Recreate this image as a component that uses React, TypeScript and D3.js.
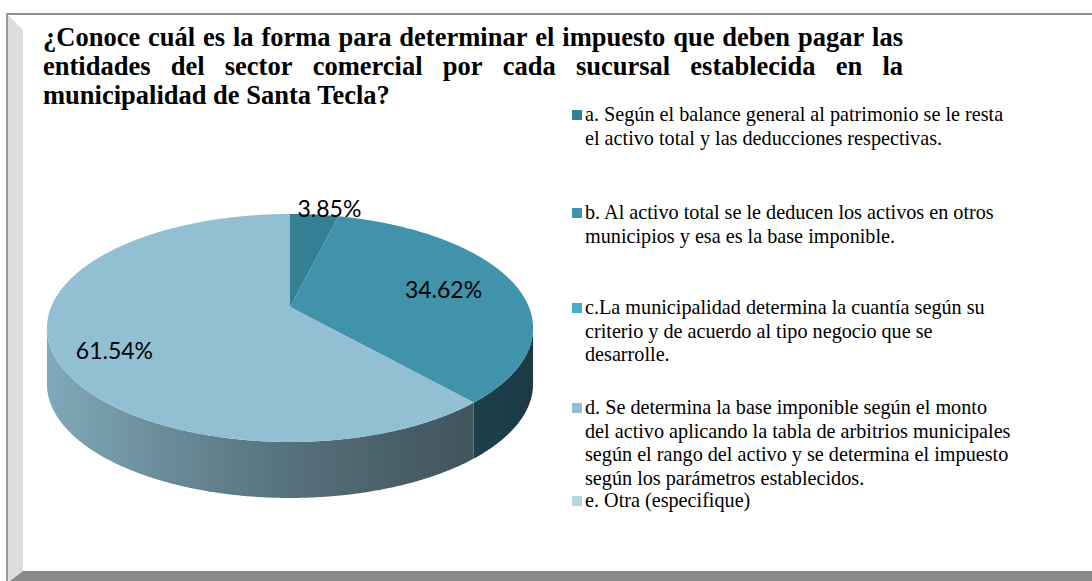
import React from 'react';
import * as d3 from 'd3';

const titleLines = [
  '¿Conoce cuál es la forma para determinar el impuesto que deben pagar las',
  'entidades del sector comercial por cada sucursal establecida en la',
  'municipalidad de Santa Tecla?',
];

const categories = ['a', 'b', 'c', 'd', 'e'];
const legendLines = [
  ['a. Según el balance general al patrimonio se le resta', 'el activo total y las deducciones respectivas.'],
  ['b. Al activo total se le deducen los activos en otros', 'municipios y esa es la base imponible.'],
  ['c.La municipalidad determina la cuantía según su', 'criterio y de acuerdo al tipo negocio que se', 'desarrolle.'],
  ['d. Se determina la base imponible según el monto', 'del activo aplicando la tabla de arbitrios municipales', 'según el rango del activo y se determina el impuesto', 'según los parámetros establecidos.'],
  ['e. Otra (especifique)'],
];
const values = [3.85, 34.62, 0, 61.54, 0];
const valueLabels = ['3.85%', '34.62%', '', '61.54%', ''];
const colors = ['#337f93', '#4193ac', '#4bacc6', '#92c0d2', '#b7d7e3'];
const legendTops = [121, 219, 314, 414, 507];

// label placement (radius factor on projected disc)
const labelRadius = [1.05, 0.7, 0.7, 0.8, 0.7];
const labelDx = [14, -4, 0, 13, 0];
const labelDy = [-3, 0, 0, 10, 0];

const W = 1092;
const H = 581;

// pie geometry (perspective projected disc)
const CX = 290;
const CY = 307;
const A = 238.9;
const B = 110.1;
const K = 0.1842;
const DEPTH = 56;

function proj(theta: number, r = 1, dy = 0): [number, number] {
  const u = Math.sin(theta) * r;
  const v = -Math.cos(theta) * r;
  const s = 1 / (1 - K * v);
  return [CX + A * u * s, CY + B * v * s + dy];
}

function measure(text: string, font: string): number {
  const c = document.createElement('canvas');
  const ctx = c.getContext('2d')!;
  ctx.font = font;
  return ctx.measureText(text).width;
}

const SERIF = "'Liberation Serif', 'Times New Roman', serif";
const TITLE_FONT_SIZE = 26.5;
const TITLE_X = 43;
const TITLE_RIGHT = 903;
const TITLE_BASE = [46, 75, 104];
const LEGEND_FONT_SIZE = 20.2;
const LEGEND_LINE = 23.5;

export default function App() {
  const pie = d3
    .pie<number>()
    .sort(null)
    .value((d) => d)
    .startAngle(0)
    .endAngle(2 * Math.PI);
  const arcs = pie(values);
  const line = d3.line();

  const visStart = Math.acos(-K);
  const visEnd = 2 * Math.PI - Math.acos(-K);
  const widthHalf = A / Math.sqrt(1 - K * K);

  const sample = (a0: number, a1: number, r = 1, dy = 0) => {
    const n = Math.max(2, Math.ceil((a1 - a0) / 0.005));
    return d3.range(n + 1).map((i) => proj(a0 + ((a1 - a0) * i) / n, r, dy));
  };

  const titleFont = `bold ${TITLE_FONT_SIZE}px ${SERIF}`;

  return (
    <svg width={W} height={H} style={{ position: 'absolute', left: 0, top: 0 }}>
      <defs>
        {arcs.map((a, i) => {
          const base = d3.color(colors[i])!;
          const stops = d3.range(0, 1.01, 0.25).map((t) => ({
            t,
            c: base.darker(0.35 + t * 2.25).formatHex(),
          }));
          return (
            <linearGradient
              key={i}
              id={`side${i}`}
              gradientUnits="userSpaceOnUse"
              x1={CX - widthHalf}
              x2={CX + widthHalf}
              y1={0}
              y2={0}
            >
              {stops.map((s, j) => (
                <stop key={j} offset={s.t} stopColor={s.c} />
              ))}
            </linearGradient>
          );
        })}
      </defs>
      <rect x={0} y={0} width={W} height={H} fill="#ffffff" />
      {/* frame */}
      <polygon points={`8,15 23,30 23,571 10,581 8,581`} fill="#dcdcdc" />
      <polygon points={`10,581 23,571 ${W},571 ${W},581`} fill="#898989" />
      <rect x={7} y={13} width={W - 7} height={2} fill="#8f8f8f" />
      <rect x={6} y={13} width={2} height={H - 13} fill="#9a9a9a" />

      {/* title */}
      {titleLines.map((ln, li) => {
        const words = ln.split(' ');
        const justify = li < titleLines.length - 1;
        if (!justify) {
          return (
            <text
              key={li}
              x={TITLE_X}
              y={TITLE_BASE[li]}
              fontFamily={SERIF}
              fontWeight="bold"
              fontSize={TITLE_FONT_SIZE}
              fill="#000"
            >
              {ln}
            </text>
          );
        }
        const widths = words.map((w) => measure(w, titleFont));
        const total = d3.sum(widths);
        const gap = (TITLE_RIGHT - TITLE_X - total) / (words.length - 1);
        let x = TITLE_X;
        return (
          <g key={li}>
            {words.map((w, wi) => {
              const el = (
                <text
                  key={wi}
                  x={x}
                  y={TITLE_BASE[li]}
                  fontFamily={SERIF}
                  fontWeight="bold"
                  fontSize={TITLE_FONT_SIZE}
                  fill="#000"
                >
                  {w}
                </text>
              );
              x += widths[wi] + gap;
              return el;
            })}
          </g>
        );
      })}

      {/* pie sides */}
      {arcs.map((a, i) => {
        const s0 = Math.max(a.startAngle, visStart);
        const s1 = Math.min(a.endAngle, visEnd);
        if (s1 <= s0 || a.value === 0) return null;
        const top = sample(s0, s1);
        const bottom = sample(s0, s1, 1, DEPTH).reverse();
        return (
          <path key={`s${i}`} d={line([...top, ...bottom])! + 'Z'} fill={`url(#side${i})`} />
        );
      })}

      {/* pie tops */}
      {arcs.map((a, i) => {
        if (a.value === 0) return null;
        const pts = [proj(0, 0), ...sample(a.startAngle, a.endAngle)];
        return <path key={`t${i}`} d={line(pts)! + 'Z'} fill={colors[i]} />;
      })}

      {/* labels */}
      {arcs.map((a, i) => {
        if (a.value === 0) return null;
        const mid = (a.startAngle + a.endAngle) / 2;
        const [x, y] = proj(mid, labelRadius[i]);
        return (
          <text
            key={`l${i}`}
            x={x + labelDx[i]}
            y={y + labelDy[i]}
            textAnchor="middle"
            dominantBaseline="central"
            fontFamily="Lato, 'Open Sans', sans-serif"
            fontSize={23}
            fill="#000"
          >
            {valueLabels[i]}
          </text>
        );
      })}

      {/* legend */}
      {categories.map((c, i) => (
        <g key={c}>
          <rect x={572} y={legendTops[i] - 11} width={10} height={10} fill={colors[i]} />
          {legendLines[i].map((t, j) => (
            <text
              key={j}
              x={585}
              y={legendTops[i] + j * LEGEND_LINE}
              fontFamily={SERIF}
              fontSize={LEGEND_FONT_SIZE}
              fill="#000"
            >
              {t}
            </text>
          ))}
        </g>
      ))}
    </svg>
  );
}
